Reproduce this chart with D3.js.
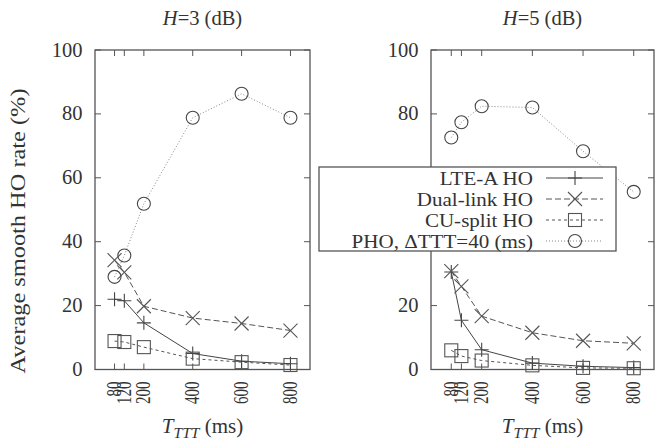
<html>
<head>
<script src="https://d3js.org/d3.v7.min.js"></script>
<style>
  body { margin: 0; background: #fff; }
  text { font-family: "Liberation Serif", "DejaVu Serif", serif; fill: #333; }
</style>
</head>
<body>
<div id="chart"></div>
<script>
const tttValues = [80, 120, 200, 400, 600, 800];
const xTicks = [80, 120, 200, 400, 600, 800];
const yTicks = [0, 20, 40, 60, 80, 100];
const seriesNames = ["LTE-A HO", "Dual-link HO", "CU-split HO", "PHO, \u0394TTT=40 (ms)"];

// H=3 dB
const lteH3 = [22, 21.5, 14.6, 5.0, 2.6, 1.8];
const dualH3 = [34.2, 30.4, 19.8, 16.1, 14.4, 12.2];
const cuH3 = [8.9, 8.6, 7.0, 3.4, 2.3, 1.4];
const phoH3 = [29.0, 35.7, 51.9, 78.8, 86.3, 78.8];

// H=5 dB
const lteH5 = [30.5, 15.4, 6.2, 2.0, 1.0, 0.6];
const dualH5 = [30.8, 26.0, 16.7, 11.5, 9.0, 8.2];
const cuH5 = [6.0, 4.2, 2.8, 1.3, 0.5, 0.4];
const phoH5 = [72.6, 77.4, 82.4, 82.0, 68.3, 55.6];

const panels = [
  { title: "3", left: 95, right: 310, data: [lteH3, dualH3, cuH3, phoH3] },
  { title: "5", left: 431, right: 654, data: [lteH5, dualH5, cuH5, phoH5] }
];

const w = 661, h = 443;
const yTop = 50, yBottom = 369.5;
const axisColor = "#555";
const fs = 20.5;
const legendBox = { x: 319, y: 167, w: 297, h: 84 };
const styles = [
  { dash: null, color: "#444", marker: "plus" },
  { dash: "6,3", color: "#555", marker: "cross" },
  { dash: "3,3", color: "#555", marker: "square" },
  { dash: "1,2", color: "#888", marker: "circle" }
];

const svg = d3.select("#chart").append("svg")
  .attr("width", w).attr("height", h);

function drawMarker(g, type, x, y, color) {
  if (type === "plus") {
    g.append("path").attr("d", `M${x-7},${y}H${x+7}M${x},${y-7}V${y+7}`)
      .attr("stroke", color).attr("stroke-width", 1.1).attr("fill", "none");
  } else if (type === "cross") {
    g.append("path").attr("d", `M${x-7},${y-7}L${x+7},${y+7}M${x-7},${y+7}L${x+7},${y-7}`)
      .attr("stroke", color).attr("stroke-width", 1.1).attr("fill", "none");
  } else if (type === "square") {
    g.append("rect").attr("x", x-6.5).attr("y", y-6.5).attr("width", 13).attr("height", 13)
      .attr("stroke", color).attr("stroke-width", 1.1).attr("fill", "none");
  } else {
    g.append("circle").attr("cx", x).attr("cy", y).attr("r", 6.5)
      .attr("stroke", "#444").attr("stroke-width", 1.1).attr("fill", "none");
  }
}

panels.forEach(p => {
  const x = d3.scaleLinear().domain([0, 880]).range([p.left, p.right]);
  const y = d3.scaleLinear().domain([0, 100]).range([yBottom, yTop]);
  const g = svg.append("g");

  // frame
  g.append("rect").attr("x", p.left).attr("y", yTop)
    .attr("width", p.right - p.left).attr("height", yBottom - yTop)
    .attr("fill", "none").attr("stroke", axisColor).attr("stroke-width", 1.3);

  // y ticks (inward, mirrored)
  yTicks.forEach(v => {
    g.append("line").attr("x1", p.left).attr("x2", p.left + 6)
      .attr("y1", y(v)).attr("y2", y(v)).attr("stroke", axisColor);
    g.append("line").attr("x1", p.right).attr("x2", p.right - 6)
      .attr("y1", y(v)).attr("y2", y(v)).attr("stroke", axisColor);
    // labels hidden behind the legend box are not drawn
    const lx = p.left - 12.5, ly = y(v);
    const hidden = lx > legendBox.x && ly > legendBox.y && ly < legendBox.y + legendBox.h;
    if (!hidden) {
      g.append("text").attr("x", lx).attr("y", ly + 6.5)
        .attr("text-anchor", "end").attr("font-size", fs).text(v);
    }
  });

  // x ticks
  xTicks.forEach(v => {
    g.append("line").attr("x1", x(v)).attr("x2", x(v))
      .attr("y1", yBottom).attr("y2", yBottom - 6).attr("stroke", axisColor);
    g.append("line").attr("x1", x(v)).attr("x2", x(v))
      .attr("y1", yTop).attr("y2", yTop + 6).attr("stroke", axisColor);
    g.append("text")
      .attr("transform", `translate(${x(v) + 6.5},${yBottom + 12}) rotate(-90) scale(0.73,1)`)
      .attr("text-anchor", "end").attr("font-size", fs).text(v);
  });

  // title
  const cx = (p.left + p.right) / 2;
  const t = g.append("text").attr("x", cx).attr("y", 25)
    .attr("text-anchor", "middle").attr("font-size", fs);
  t.append("tspan").attr("font-style", "italic").text("H");
  t.append("tspan").text("=" + p.title + " (dB)");

  // x label
  const xl = g.append("text").attr("x", cx).attr("y", 433)
    .attr("text-anchor", "middle").attr("font-size", 21);
  xl.append("tspan").attr("font-style", "italic").text("T");
  xl.append("tspan").attr("font-style", "italic").attr("font-size", 15.5).attr("dy", 5).text("TTT");
  xl.append("tspan").attr("dy", -5).text(" (ms)");

  // series
  p.data.forEach((vals, si) => {
    const st = styles[si];
    const line = d3.line().x((d, i) => x(tttValues[i])).y(d => y(d));
    g.append("path").datum(vals).attr("d", line)
      .attr("fill", "none").attr("stroke", st.color).attr("stroke-width", 1)
      .attr("stroke-dasharray", st.dash);
    vals.forEach((v, i) => drawMarker(g, st.marker, x(tttValues[i]), y(v), st.color));
  });
});

// y axis label
svg.append("text").attr("transform", "translate(25,231) rotate(-90)")
  .attr("text-anchor", "middle").attr("font-size", 21)
  .attr("textLength", 285).attr("lengthAdjust", "spacingAndGlyphs")
  .text("Average smooth HO rate (%)");

// legend
const lg = svg.append("g");
lg.append("rect").attr("x", legendBox.x).attr("y", legendBox.y)
  .attr("width", legendBox.w).attr("height", legendBox.h)
  .attr("fill", "#fff").attr("stroke", axisColor).attr("stroke-width", 1.3);
seriesNames.forEach((name, i) => {
  const ly = 178 + i * 21;
  const st = styles[i];
  lg.append("text").attr("transform", `translate(533,${ly + 6.5}) scale(1.12,1)`)
    .attr("text-anchor", "end").attr("font-size", 18.8).text(name);
  lg.append("line").attr("x1", 546).attr("x2", 603).attr("y1", ly).attr("y2", ly)
    .attr("stroke", st.color).attr("stroke-dasharray", st.dash);
  drawMarker(lg, st.marker, 575, ly, st.color);
});
</script>
</body>
</html>
